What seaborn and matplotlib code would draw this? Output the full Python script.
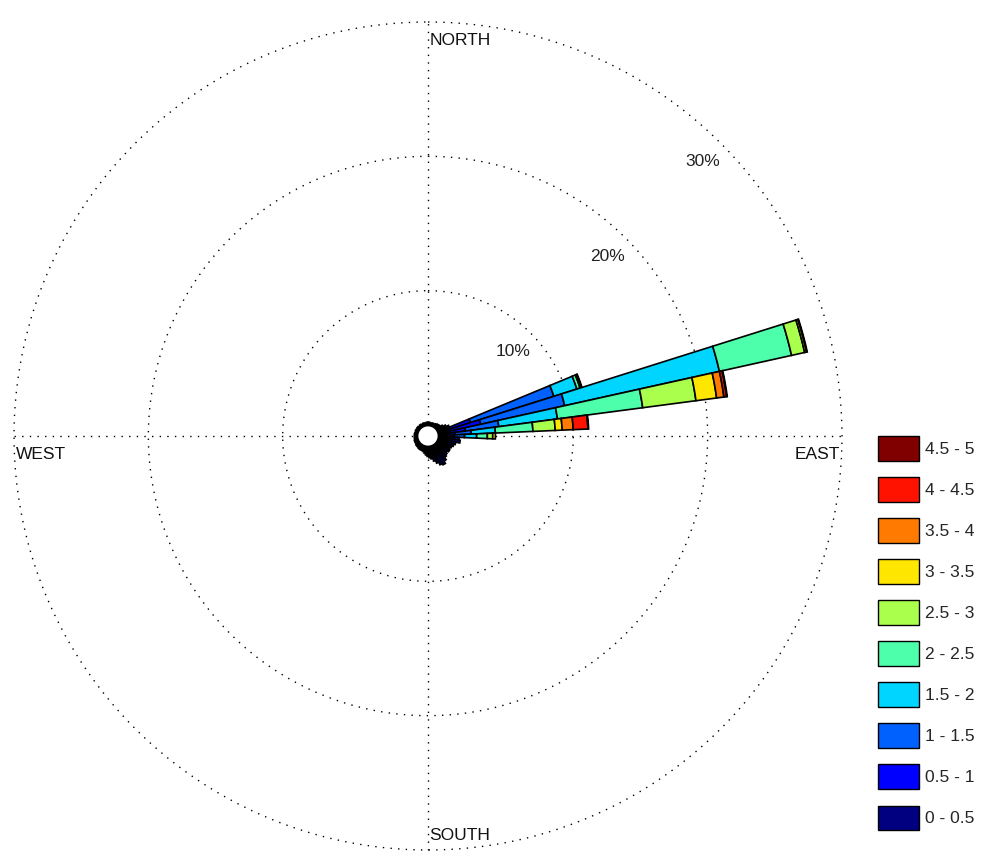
import numpy as np
import pandas as pd
import matplotlib
matplotlib.use("Agg")
import matplotlib.pyplot as plt
import seaborn as sns
from matplotlib.patches import Patch, Circle

# ---------------------------------------------------------------- data
speed_bins = ["0 - 0.5", "0.5 - 1", "1 - 1.5", "1.5 - 2", "2 - 2.5",
              "2.5 - 3", "3 - 3.5", "3.5 - 4", "4 - 4.5", "4.5 - 5"]

# frequency (%) of each speed class for the dominant sectors (direction in degrees)
freq_070 = [0.5, 2.0, 6.5, 1.8, 0.25, 0.1, 0.05, 0.0, 0.0, 0.0]
freq_075 = [0.6, 2.6, 6.4, 11.8, 5.5, 1.0, 0.15, 0.05, 0.0, 0.0]
freq_080 = [0.5, 1.5, 2.5, 4.4, 6.4, 4.0, 1.55, 0.55, 0.2, 0.05]
freq_085 = [0.4, 0.8, 1.2, 1.8, 2.8, 1.66, 0.52, 0.82, 1.1, 0.05]
freq_090 = [0.4, 0.7, 0.8, 0.9, 0.8, 0.4, 0.2, 0.0, 0.0, 0.0]
main_dirs = [70, 75, 80, 85, 90]

# remaining 5-degree sectors: only light winds
other_dirs = [0, 5, 10, 15, 20, 25, 30, 35, 40, 45, 50, 55, 60, 65,
              95, 100, 105, 110, 115, 120, 125, 130, 135, 140, 145, 150,
              155, 160, 165, 170, 175, 180, 185, 190, 195, 200, 205, 210,
              215, 220, 225, 230, 235, 240, 245, 250, 255, 260, 265, 270,
              275, 280, 285, 290, 295, 300, 305, 310, 315, 320, 325, 330,
              335, 340, 345, 350, 355]
other_pct = [0.2, 0.2, 0.15, 0.15, 0.2, 0.15, 0.2, 0.25, 0.3, 0.3, 0.35, 0.5, 0.7, 0.9,
             1.5, 1.6, 1.3, 1.2, 1.1, 1.0, 1.1, 1.0, 1.1, 1.2, 1.4, 1.6,
             1.5, 1.3, 1.1, 0.9, 0.8, 0.7, 0.6, 0.5, 0.4, 0.35, 0.35, 0.3,
             0.35, 0.3, 0.25, 0.3, 0.25, 0.25, 0.2, 0.25, 0.2, 0.2, 0.15, 0.2,
             0.15, 0.2, 0.15, 0.15, 0.2, 0.15, 0.15, 0.2, 0.15, 0.15, 0.2, 0.15,
             0.15, 0.2, 0.15, 0.15, 0.2]

ring_values = [10, 20, 30]
ring_labels = ["10%", "20%", "30%"]

# ---------------------------------------------------------------- tidy table
records = []
for d, freqs in zip(main_dirs, [freq_070, freq_075, freq_080, freq_085, freq_090]):
    for b, f in zip(speed_bins, freqs):
        records.append({"direction": d, "speed": b, "freq": f})
for d, f in zip(other_dirs, other_pct):
    records.append({"direction": d, "speed": speed_bins[0], "freq": f})
df = pd.DataFrame(records)
df["speed"] = pd.Categorical(df["speed"], categories=speed_bins, ordered=True)
df = df.sort_values(["direction", "speed"])
df["bottom"] = df.groupby("direction")["freq"].cumsum() - df["freq"]

# ---------------------------------------------------------------- style
sns.set_theme(style="white")
plt.rcParams["font.family"] = ["Liberation Sans", "DejaVu Sans"]
colors = sns.color_palette(plt.get_cmap("jet")(np.linspace(0, 1, len(speed_bins))))
color_of = dict(zip(speed_bins, colors))

W, H = 983, 851
fig = plt.figure(figsize=(W / 100, H / 100), dpi=100)
cx, cy, R = 428, 436, 414
ax = fig.add_axes([(cx - R) / W, (H - cy - R) / H, 2 * R / W, 2 * R / H],
                  projection="polar")
ax.set_theta_zero_location("N")
ax.set_theta_direction(-1)
rmax = 30
ax.set_rlim(0, rmax)
r_origin = -0.819
ax.set_rorigin(r_origin)
ax.set_axis_off()

dots = (0, (1, 4.5))
# reference rings
th = np.linspace(0, 2 * np.pi, 721)
for rv in ring_values:
    ax.plot(th, np.full_like(th, rv), color="black", lw=1.0, ls=dots,
            zorder=0.5, clip_on=False)
# cardinal axes
ax.plot([0, 1], [0.5, 0.5], transform=ax.transAxes, color="black", lw=1.0,
        ls=dots, zorder=0.5, clip_on=False)
ax.plot([0.5, 0.5], [0, 1], transform=ax.transAxes, color="black", lw=1.0,
        ls=dots, zorder=0.5, clip_on=False)

# stacked sectors
width = np.deg2rad(5)
for _, row in df.iterrows():
    if row["freq"] <= 0:
        continue
    ax.bar(np.deg2rad(row["direction"]), row["freq"], width=width,
           bottom=row["bottom"], color=color_of[row["speed"]],
           edgecolor="black", linewidth=1.2, zorder=2)

# calm circle
calm_frac = 0.5 * (0 - r_origin) / (rmax - r_origin)
ax.add_patch(Circle((0.5, 0.5), calm_frac, transform=ax.transAxes,
                    facecolor="white", edgecolor="black", lw=2.0,
                    zorder=3, clip_on=False))

# ring labels along the NE diagonal
for rv, lab in zip(ring_values, ring_labels):
    ax.text(np.deg2rad(45), rv - 1.9, lab, ha="center", va="center",
            fontsize=12.5, color="#222222", zorder=4)

# cardinal labels
lab_kw = dict(transform=ax.transAxes, fontsize=12.5, color="#111111", zorder=4)
ax.text(0.5025, 0.987, "NORTH", ha="left", va="top", **lab_kw)
ax.text(0.5015, 0.008, "SOUTH", ha="left", va="bottom", **lab_kw)
ax.text(0.002, 0.487, "WEST", ha="left", va="top", **lab_kw)
ax.text(0.9975, 0.487, "EAST", ha="right", va="top", **lab_kw)

# legend (highest class on top)
handles = [Patch(facecolor=color_of[b], edgecolor="black", linewidth=1.0, label=b)
           for b in speed_bins[::-1]]
fs = 12.5
fs_px = fs * 100 / 72
fig.legend(handles=handles, loc="upper left",
           bbox_to_anchor=(878 / W, 1 - 436 / H), frameon=False,
           borderpad=0, borderaxespad=0, fontsize=fs,
           handlelength=41 / fs_px, handleheight=1.8,
           handletextpad=6 / fs_px, labelspacing=0.95)

fig.savefig("out.png", dpi=100)
